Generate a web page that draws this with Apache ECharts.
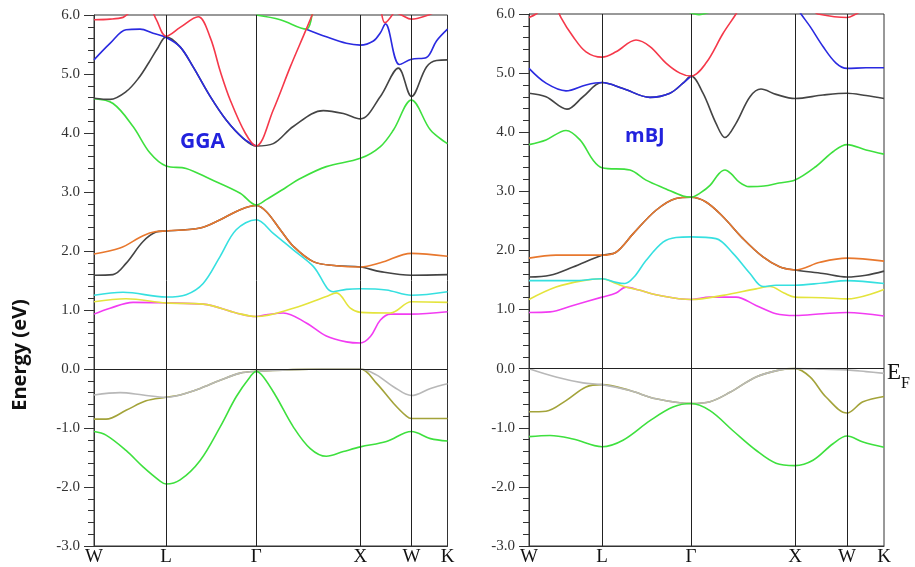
<!DOCTYPE html>
<html><head><meta charset="utf-8">
<script src="https://cdn.jsdelivr.net/npm/echarts@6/dist/echarts.min.js"></script>
<style>html,body{margin:0;padding:0;background:#fff}#c{width:915px;height:567px}</style>
</head><body><div id="c"></div>
<script>
// ---- tick labels / high-symmetry points ----
const kLabels = ['W','L','Γ','X','W','K'];
const kNodesGGA = [0,0.72,1.62,2.66,3.17,3.53];
const kNodesMBJ = [0,0.73,1.62,2.66,3.18,3.55];

// ---- GGA panel bands: [k, E(eV)] ----
const ggaOlive = [[0,-0.85],[0.12,-0.85],[0.32,-0.70],[0.52,-0.54],[0.72,-0.48],[0.86,-0.44],[1.06,-0.33],[1.26,-0.19],[1.46,-0.07],[1.62,-0.04],[1.99,-0.01],[2.29,0],[2.66,0],[2.82,-0.24],[2.99,-0.58],[3.12,-0.80],[3.17,-0.84],[3.36,-0.84],[3.53,-0.84]];
const ggaGray = [[0,-0.44],[0.26,-0.40],[0.49,-0.44],[0.72,-0.48],[0.86,-0.44],[1.06,-0.33],[1.26,-0.19],[1.46,-0.07],[1.62,-0.04],[1.99,-0.01],[2.29,0],[2.66,0],[2.82,-0.10],[2.99,-0.30],[3.17,-0.45],[3.36,-0.33],[3.53,-0.25]];
const ggaGreenV = [[0,-1.06],[0.12,-1.12],[0.32,-1.38],[0.49,-1.66],[0.66,-1.90],[0.72,-1.95],[0.86,-1.88],[1.06,-1.55],[1.26,-0.98],[1.42,-0.47],[1.56,-0.13],[1.62,-0.04],[1.69,-0.13],[1.82,-0.47],[1.99,-0.98],[2.16,-1.35],[2.32,-1.48],[2.49,-1.40],[2.66,-1.32],[2.92,-1.23],[3.17,-1.06],[3.36,-1.18],[3.53,-1.22]];
const ggaMagenta = [[0,0.93],[0.16,1.03],[0.39,1.13],[0.72,1.12],[1.09,1.10],[1.42,0.95],[1.62,0.89],[1.72,0.92],[1.89,0.95],[2.12,0.78],[2.32,0.56],[2.52,0.46],[2.66,0.44],[2.76,0.55],[2.86,0.83],[2.96,0.93],[3.17,0.93],[3.53,0.97]];
const ggaYellow = [[0,1.14],[0.32,1.19],[0.72,1.12],[1.09,1.10],[1.42,0.95],[1.62,0.89],[1.99,1.03],[2.32,1.23],[2.42,1.29],[2.56,1.03],[2.66,0.96],[2.96,0.95],[3.17,1.14],[3.53,1.13]];
const ggaCyan = [[0,1.25],[0.29,1.30],[0.72,1.22],[0.92,1.26],[1.09,1.45],[1.26,1.91],[1.42,2.36],[1.62,2.53],[1.79,2.30],[1.99,2.02],[2.19,1.74],[2.39,1.31],[2.52,1.35],[2.66,1.36],[2.92,1.34],[3.17,1.25],[3.53,1.31]];
const ggaBlackLow = [[0,1.59],[0.19,1.60],[0.32,1.79],[0.49,2.16],[0.62,2.32],[0.72,2.34],[1.06,2.39],[1.26,2.53],[1.46,2.70],[1.62,2.77],[1.72,2.67],[1.86,2.36],[1.99,2.08],[2.19,1.82],[2.42,1.75],[2.66,1.73],[2.86,1.65],[3.17,1.59],[3.53,1.60]];
const ggaOrange = [[0,1.95],[0.26,2.05],[0.49,2.26],[0.62,2.33],[0.72,2.34],[1.06,2.39],[1.26,2.53],[1.46,2.70],[1.62,2.77],[1.72,2.67],[1.86,2.36],[1.99,2.08],[2.19,1.82],[2.42,1.75],[2.66,1.73],[2.86,1.80],[3.17,1.96],[3.53,1.91]];
const ggaGreenC = [[0,4.58],[0.19,4.50],[0.39,4.11],[0.56,3.66],[0.72,3.44],[0.92,3.40],[1.16,3.22],[1.46,2.98],[1.62,2.78],[1.72,2.87],[1.92,3.08],[2.05,3.22],[2.32,3.43],[2.66,3.57],[2.86,3.77],[2.99,4.05],[3.17,4.56],[3.36,4.05],[3.53,3.82]];
const ggaBlackUp = [[0,4.59],[0.16,4.57],[0.32,4.70],[0.45,4.94],[0.55,5.20],[0.64,5.45],[0.72,5.63],[0.86,5.46],[0.99,5.12],[1.16,4.62],[1.32,4.22],[1.49,3.91],[1.62,3.78],[1.79,3.82],[1.99,4.11],[2.29,4.38],[2.49,4.33],[2.66,4.24],[2.86,4.62],[3.04,5.10],[3.17,4.62],[3.32,5.12],[3.42,5.23],[3.53,5.24]];
const ggaBlueA = [[0,5.24],[0.16,5.52],[0.32,5.75],[0.46,5.76],[0.59,5.69],[0.72,5.62],[0.86,5.46],[0.99,5.12],[1.16,4.62],[1.32,4.22],[1.49,3.91],[1.62,3.78]];
const ggaBlueB = [[2.12,5.76],[2.32,5.63],[2.52,5.52],[2.66,5.49],[2.79,5.56],[2.86,5.70],[2.91,5.85],[3.05,5.16],[3.17,5.25],[3.32,5.28],[3.42,5.56],[3.53,5.76]];
const ggaGreenTop = [[1.62,6.0],[1.86,5.92],[2.12,5.76],[2.18,6.05]];
const ggaRedA = [[0,5.92],[0.16,5.93],[0.29,5.96],[0.34,6.02],[0.45,6.15],[0.58,6.05],[0.62,5.93],[0.72,5.64],[0.86,5.79],[1.04,5.97],[1.16,5.62],[1.26,5.05],[1.36,4.56],[1.51,4.0],[1.62,3.78],[1.79,4.39],[1.96,5.12],[2.12,5.76],[2.19,6.05]];
const ggaRedB = [[2.87,6.05],[2.905,5.87],[2.99,6.03]];
const ggaRedC = [[3.0,6.05],[3.07,6.0],[3.17,5.93],[3.34,6.0],[3.40,6.05]];

// ---- mBJ panel bands: [k, E(eV)] ----
const mbjOlive = [[0,-0.73],[0.17,-0.72],[0.37,-0.54],[0.57,-0.31],[0.73,-0.27],[1.01,-0.37],[1.27,-0.51],[1.62,-0.59],[1.81,-0.56],[2.01,-0.40],[2.27,-0.14],[2.51,-0.02],[2.66,0],[2.81,-0.14],[2.97,-0.48],[3.18,-0.75],[3.34,-0.56],[3.55,-0.47]];
const mbjGray = [[0,0],[0.27,-0.14],[0.54,-0.24],[0.73,-0.27],[1.01,-0.37],[1.27,-0.51],[1.62,-0.59],[1.81,-0.56],[2.01,-0.40],[2.27,-0.14],[2.51,-0.02],[2.66,0],[2.94,-0.01],[3.18,-0.02],[3.37,-0.05],[3.55,-0.08]];
const mbjGreenV = [[0,-1.15],[0.21,-1.13],[0.44,-1.19],[0.73,-1.32],[0.94,-1.21],[1.21,-0.88],[1.44,-0.65],[1.62,-0.59],[1.81,-0.71],[2.04,-1.05],[2.27,-1.38],[2.47,-1.60],[2.66,-1.64],[2.84,-1.55],[3.04,-1.27],[3.18,-1.14],[3.34,-1.24],[3.55,-1.33]];
const mbjMagenta = [[0,0.95],[0.21,0.96],[0.44,1.07],[0.73,1.21],[0.87,1.28],[0.97,1.38],[1.10,1.33],[1.27,1.25],[1.62,1.17],[1.81,1.21],[2.07,1.21],[2.27,1.07],[2.47,0.93],[2.66,0.90],[2.94,0.93],[3.18,0.95],[3.55,0.89]];
const mbjYellow = [[0,1.17],[0.27,1.38],[0.54,1.49],[0.73,1.52],[0.87,1.44],[0.97,1.38],[1.10,1.33],[1.27,1.25],[1.62,1.17],[1.94,1.24],[2.27,1.35],[2.41,1.39],[2.55,1.28],[2.66,1.21],[2.94,1.20],[3.18,1.18],[3.55,1.34]];
const mbjCyan = [[0,1.49],[0.44,1.49],[0.73,1.52],[0.87,1.46],[0.96,1.44],[1.05,1.55],[1.17,1.83],[1.34,2.14],[1.47,2.22],[1.62,2.23],[1.87,2.20],[2.04,1.95],[2.21,1.61],[2.34,1.39],[2.47,1.41],[2.66,1.41],[2.94,1.45],[3.18,1.49],[3.55,1.44]];
const mbjBlackLow = [[0,1.55],[0.21,1.58],[0.44,1.72],[0.73,1.92],[0.87,1.97],[1.04,2.28],[1.27,2.68],[1.47,2.88],[1.62,2.90],[1.77,2.82],[1.94,2.57],[2.14,2.20],[2.34,1.89],[2.51,1.72],[2.66,1.67],[2.94,1.61],[3.18,1.55],[3.37,1.58],[3.55,1.65]];
const mbjOrange = [[0,1.87],[0.27,1.92],[0.61,1.92],[0.73,1.92],[0.87,1.97],[1.04,2.28],[1.27,2.68],[1.47,2.88],[1.62,2.90],[1.77,2.82],[1.94,2.57],[2.14,2.20],[2.34,1.89],[2.51,1.72],[2.66,1.67],[2.91,1.80],[3.18,1.87],[3.55,1.82]];
const mbjGreenC = [[0,3.79],[0.17,3.87],[0.37,4.03],[0.51,3.87],[0.64,3.53],[0.73,3.40],[1.01,3.36],[1.17,3.19],[1.37,3.04],[1.54,2.92],[1.62,2.90],[1.71,2.97],[1.81,3.10],[1.90,3.30],[1.96,3.36],[2.02,3.30],[2.10,3.16],[2.20,3.08],[2.35,3.09],[2.50,3.14],[2.66,3.19],[2.87,3.42],[3.04,3.67],[3.18,3.79],[3.37,3.70],[3.55,3.63]];
const mbjBlackUp = [[0,4.66],[0.17,4.60],[0.38,4.39],[0.54,4.60],[0.73,4.84],[0.94,4.74],[1.21,4.59],[1.41,4.66],[1.54,4.83],[1.62,4.95],[1.74,4.66],[1.87,4.15],[1.96,3.91],[2.07,4.15],[2.21,4.60],[2.32,4.73],[2.47,4.64],[2.66,4.57],[2.94,4.63],[3.18,4.66],[3.37,4.62],[3.55,4.57]];
const mbjBlueA = [[0,5.08],[0.17,4.83],[0.37,4.70],[0.57,4.80],[0.73,4.84],[0.94,4.74],[1.21,4.59],[1.41,4.66],[1.54,4.83],[1.62,4.95]];
const mbjBlueB = [[2.62,6.25],[2.72,6.0],[2.81,5.79],[2.94,5.45],[3.07,5.17],[3.18,5.08],[3.37,5.09],[3.55,5.09]];
const mbjGreenTop = [[1.60,6.03],[1.70,5.99],[1.80,6.03]];
const mbjRedA = [[0,5.94],[0.07,6.0],[0.12,6.08]];
const mbjRedB = [[0.27,6.15],[0.32,5.94],[0.44,5.62],[0.57,5.36],[0.73,5.27],[0.87,5.36],[1.07,5.56],[1.21,5.45],[1.37,5.17],[1.51,5.00],[1.62,4.95],[1.77,5.17],[1.94,5.67],[2.07,6.0],[2.12,6.15]];
const mbjRedC = [[2.85,6.05],[2.89,6.0],[3.18,5.94],[3.27,6.0],[3.32,6.05]];

// ---- colours ----
const C = {
  olive:'#a3a33a', gray:'#b8b8b8', green:'#3ee03e', magenta:'#f23cf2', yellow:'#e4e43c',
  cyan:'#36e0e0', black:'#444444', orange:'#e8782e', blue:'#2a2ae0', red:'#f5384a'
};

const ggaBands = [
  [ggaOlive,C.olive],[ggaGray,C.gray],[ggaGreenV,C.green],[ggaMagenta,C.magenta],[ggaYellow,C.yellow],
  [ggaCyan,C.cyan],[ggaBlackLow,C.black],[ggaOrange,C.orange],[ggaGreenC,C.green],[ggaBlackUp,C.black],
  [ggaBlueA,C.blue],[ggaBlueB,C.blue],[ggaGreenTop,C.green],[ggaRedA,C.red],[ggaRedB,C.red],[ggaRedC,C.red]
];
const mbjBands = [
  [mbjOlive,C.olive],[mbjGray,C.gray],[mbjGreenV,C.green],[mbjMagenta,C.magenta],[mbjYellow,C.yellow],
  [mbjCyan,C.cyan],[mbjBlackLow,C.black],[mbjOrange,C.orange],[mbjGreenC,C.green],[mbjBlackUp,C.black],
  [mbjBlueA,C.blue],[mbjBlueB,C.blue],[mbjGreenTop,C.green],[mbjRedA,C.red],[mbjRedB,C.red],[mbjRedC,C.red]
];

const frame = '#333';
function makeX(idx, nodes){
  return {
    type:'value', gridIndex:idx, min:nodes[0], max:nodes[nodes.length-1],
    axisLine:{show:true, onZero:false, lineStyle:{color:frame, width:1}},
    axisTick:{show:false}, splitLine:{show:false},
    axisLabel:{
      customValues:nodes, showMinLabel:true, showMaxLabel:true, hideOverlap:false,
      formatter:function(v){ let i=0,b=1e9; nodes.forEach((n,j)=>{ if(Math.abs(n-v)<b){b=Math.abs(n-v);i=j;} }); return kLabels[i]; },
      fontFamily:'Liberation Serif', fontSize:19, color:'#111', margin:2
    }
  };
}
function makeY(idx){
  return {
    type:'value', gridIndex:idx, min:-3, max:6, interval:1,
    axisLine:{show:true, lineStyle:{color:frame, width:1}},
    axisTick:{show:true, length:10, lineStyle:{color:frame}},
    minorTick:{show:true, splitNumber:5, length:6, lineStyle:{color:frame}},
    splitLine:{show:false},
    axisLabel:{formatter:v=>v.toFixed(1), fontFamily:'Liberation Serif', fontSize:15, color:'#333', margin:14}
  };
}
function markLines(nodes, withEF){
  const d = nodes.slice(1,-1).map(k=>({xAxis:k}));
  const zero = {yAxis:0};
  if(withEF){
    zero.label = {show:true, position:'end', distance:3, formatter:'{e|E}{f|F}',
      rich:{
        e:{fontFamily:'Liberation Serif', fontSize:23, lineHeight:23, color:'#111', verticalAlign:'top', padding:[4,0,0,0]},
        f:{fontFamily:'Liberation Serif', fontSize:16, lineHeight:16, color:'#111', verticalAlign:'top', padding:[19,0,0,0]}
      }};
  }
  d.push(zero);
  return {silent:true, symbol:['none','none'], animation:false,
    label:{show:false}, lineStyle:{color:'#222', type:'solid', width:1}, data:d};
}

const series = [];
[[ggaBands,0,kNodesGGA,false],[mbjBands,1,kNodesMBJ,true]].forEach(([bands,gi,nodes,ef])=>{
  bands.forEach(([data,color],i)=>{
    const s = {type:'line', xAxisIndex:gi, yAxisIndex:gi, data:data, smooth:0.35, showSymbol:false,
      symbol:'none', clip:true, lineStyle:{color:color, width:1.6}, itemStyle:{color:color}, silent:true, z:3};
    if(i===0){ s.markLine = markLines(nodes, ef); }
    series.push(s);
  });
});

const chart = echarts.init(document.getElementById('c'), null, {renderer:'canvas'});
chart.setOption({
  animation:false,
  backgroundColor:'#fff',
  grid:[
    {left:94, top:15, width:353.5, height:531, show:true, borderColor:frame, borderWidth:1, backgroundColor:'transparent'},
    {left:529, top:14, width:355, height:532, show:true, borderColor:frame, borderWidth:1, backgroundColor:'transparent'}
  ],
  xAxis:[makeX(0,kNodesGGA), makeX(1,kNodesMBJ)],
  yAxis:[makeY(0), makeY(1)],
  title:[
    {text:'GGA', left:180, top:132, padding:0, textStyle:{fontFamily:'Open Sans', fontWeight:'bold', fontSize:21, color:'#2222dd'}},
    {text:'mBJ', left:625, top:126, padding:0, textStyle:{fontFamily:'Open Sans', fontWeight:'bold', fontSize:20, color:'#2222dd'}}
  ],
  graphic:[
    {type:'text', x:20, y:355, rotation:Math.PI/2,
      style:{text:'Energy (eV)', fontFamily:'Open Sans', fontWeight:'bold', fontSize:20, fill:'#111', align:'center', verticalAlign:'middle'}}
  ],
  series:series
});
</script>
</body></html>
